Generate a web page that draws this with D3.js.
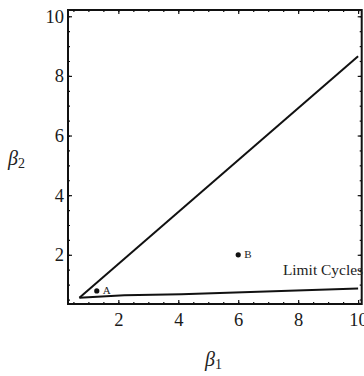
<!DOCTYPE html>
<html>
<head>
<meta charset="utf-8">
<script src="https://cdn.jsdelivr.net/npm/d3@7"></script>
<style>
  body { margin: 0; background: #fff; }
  svg { display: block; }
  .axis text { font-family: "Liberation Serif", "Times New Roman", serif; font-size: 18.5px; fill: #1a1a1a; }
  .axis path { display: none; }
  .axis line { stroke: #111; stroke-width: 1.2; }
  .note { font-family: "Liberation Serif", "Times New Roman", serif; fill: #222; }
</style>
</head>
<body>
<div id="chart"></div>
<script>
/* Parameter plane: beta1 vs beta2 */

const xTicks = [2, 4, 6, 8, 10];
const yTicks = [2, 4, 6, 8, 10];

// boundary curves
const upperBoundary = [[0.70, 0.56], [10, 8.66]];
const lowerBoundary = [[0.70, 0.56], [2.2, 0.64], [4.1, 0.68], [10, 0.87]];

const markedPoints = [
    { label: "A", x: 1.28, y: 0.79 },
    { label: "B", x: 6, y: 2 }
];

const regionLabel = { text: "Limit Cycles", x: 7.49, y: 1.33 };

const width = 364, height = 376;
const margin = { top: 10, right: 2.3, bottom: 72, left: 68 };

const svg = d3.select("#chart").append("svg")
    .attr("width", width)
    .attr("height", height);

const x = d3.scaleLinear()
    .domain([0.32, 10.12])
    .range([margin.left, width - margin.right]);

const y = d3.scaleLinear()
    .domain([0.35, 10.21])
    .range([height - margin.bottom, margin.top]);

const minorTicks = d3.range(0.5, 10.01, 0.5);
const [x0, x1] = x.range();
const [y0, y1] = y.range();

// minor ticks on all four sides
svg.append("g").attr("class", "axis")
    .attr("transform", `translate(0,${y0})`)
    .call(d3.axisBottom(x).tickValues(minorTicks).tickSize(-2).tickFormat(""));
svg.append("g").attr("class", "axis")
    .attr("transform", `translate(0,${y1})`)
    .call(d3.axisTop(x).tickValues(minorTicks).tickSize(-2).tickFormat(""));
svg.append("g").attr("class", "axis")
    .attr("transform", `translate(${x0},0)`)
    .call(d3.axisLeft(y).tickValues(minorTicks).tickSize(-2).tickFormat(""));
svg.append("g").attr("class", "axis")
    .attr("transform", `translate(${x1},0)`)
    .call(d3.axisRight(y).tickValues(minorTicks).tickSize(-2).tickFormat(""));

// major ticks
svg.append("g").attr("class", "axis")
    .attr("transform", `translate(0,${y0})`)
    .call(d3.axisBottom(x).tickValues(xTicks).tickSize(-4).tickPadding(9));
svg.append("g").attr("class", "axis")
    .attr("transform", `translate(0,${y1})`)
    .call(d3.axisTop(x).tickValues(xTicks).tickSize(-4).tickFormat(""));
svg.append("g").attr("class", "axis")
    .attr("transform", `translate(${x0},0)`)
    .call(d3.axisLeft(y).tickValues(yTicks).tickSize(-4).tickPadding(4));
svg.append("g").attr("class", "axis")
    .attr("transform", `translate(${x1},0)`)
    .call(d3.axisRight(y).tickValues(yTicks).tickSize(-4).tickFormat(""));

// frame
svg.append("rect")
    .attr("x", x0).attr("y", y1)
    .attr("width", x1 - x0).attr("height", y0 - y1)
    .attr("fill", "none")
    .attr("stroke", "#111")
    .attr("stroke-width", 2);

const line = d3.line()
    .x(d => x(d[0]))
    .y(d => y(d[1]));

svg.selectAll(".boundary")
    .data([upperBoundary, lowerBoundary])
    .enter()
    .append("path")
    .attr("class", "boundary")
    .attr("d", line)
    .attr("fill", "none")
    .attr("stroke", "#111")
    .attr("stroke-width", 2)
    .attr("stroke-linejoin", "round");

svg.selectAll(".pt")
    .data(markedPoints)
    .enter()
    .append("circle")
    .attr("class", "pt")
    .attr("cx", d => x(d.x))
    .attr("cy", d => y(d.y))
    .attr("r", 2.6)
    .attr("fill", "#111");

svg.selectAll(".pt-label")
    .data(markedPoints)
    .enter()
    .append("text")
    .attr("class", "note")
    .attr("x", d => x(d.x) + 6)
    .attr("y", d => y(d.y) + 3.5)
    .attr("font-size", "11px")
    .text(d => d.label);

// slightly wide lettering, reaching the right edge like the original
svg.append("text")
    .attr("class", "note")
    .attr("transform", `translate(${x(regionLabel.x)},${y(regionLabel.y)}) scale(1.03,1)`)
    .attr("font-size", "15px")
    .text(regionLabel.text);

// axis titles
const xTitle = svg.append("text")
    .attr("class", "note")
    .attr("x", 205)
    .attr("y", 366)
    .attr("font-size", "20px")
    .attr("font-style", "italic");
xTitle.append("tspan").text("β");
xTitle.append("tspan").attr("font-size", "14px").attr("font-style", "normal").attr("dy", 3).text("1");

const yTitle = svg.append("text")
    .attr("class", "note")
    .attr("x", 8)
    .attr("y", 165)
    .attr("font-size", "20px")
    .attr("font-style", "italic");
yTitle.append("tspan").text("β");
yTitle.append("tspan").attr("font-size", "14px").attr("font-style", "normal").attr("dy", 3).text("2");
</script>
</body>
</html>
